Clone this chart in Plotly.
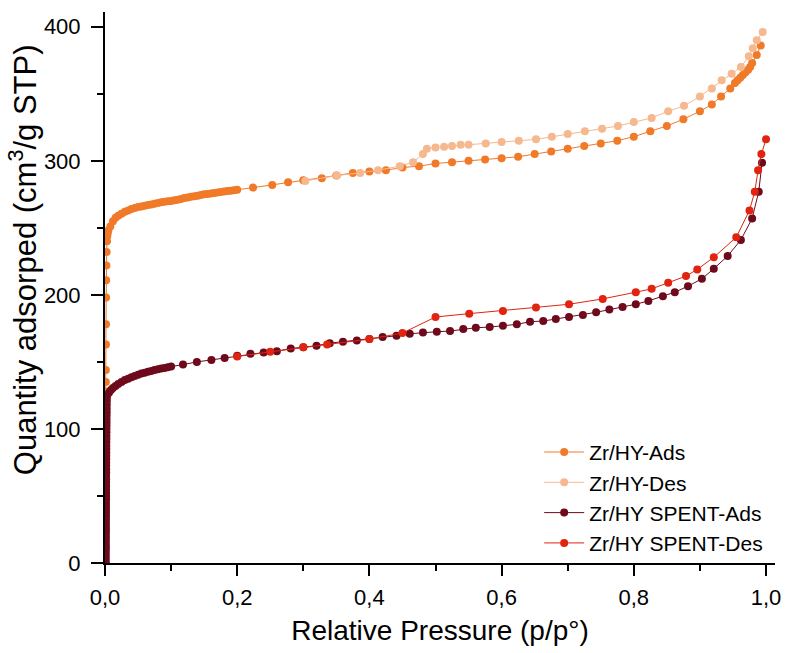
import plotly.graph_objects as go

# ---------------- data ----------------
hy_ads_p = [0.0010, 0.0011, 0.0012, 0.0013, 0.0014, 0.0015, 0.0016, 0.0018, 0.0021, 0.0025, 0.003, 0.0035, 0.004,
            0.005, 0.008, 0.012, 0.016, 0.020, 0.025, 0.030, 0.035, 0.040, 0.045, 0.050, 0.055, 0.060, 0.065,
            0.070, 0.075, 0.080, 0.085, 0.090, 0.095, 0.100, 0.105, 0.110, 0.115, 0.120, 0.125, 0.130, 0.135,
            0.140, 0.145, 0.150, 0.155, 0.160, 0.165, 0.170, 0.175, 0.180, 0.185, 0.190, 0.195, 0.200,
            0.224, 0.253, 0.277, 0.300, 0.328, 0.350, 0.375, 0.400, 0.425, 0.450, 0.475, 0.500, 0.525, 0.550,
            0.575, 0.600, 0.625, 0.650, 0.675, 0.700, 0.725, 0.750, 0.775, 0.800, 0.825, 0.850, 0.875, 0.900,
            0.918, 0.932, 0.946, 0.953, 0.957, 0.961, 0.965, 0.969, 0.973, 0.976, 0.979, 0.986, 0.992]
hy_ads_v = [125, 128, 135, 144, 163, 178, 198, 211, 222, 232, 240, 244, 246,
            248, 251, 255, 257.5, 259, 260.5, 262, 263, 264, 264.8, 265.5, 266, 266.5, 267,
            267.5, 268, 268.5, 269, 269.5, 269.8, 270, 270.5, 271, 271.6, 272.2, 272.7, 273.2, 273.6,
            274, 274.5, 275, 275.3, 275.7, 276, 276.4, 276.8, 277.1, 277.4, 277.7, 278, 278.4,
            280, 282, 284, 285.5, 287, 289, 291, 292, 293, 295, 296, 298, 299, 300,
            301, 302, 303, 305, 307, 309, 311, 313, 315, 318, 322, 326, 331, 337,
            342, 348, 354, 358, 360, 362, 364, 366, 368, 370, 373, 379, 386]

hy_des_p = [0.995, 0.986, 0.980, 0.974, 0.962, 0.948, 0.933, 0.918, 0.900, 0.876, 0.852, 0.827, 0.800,
            0.776, 0.752, 0.726, 0.700, 0.676, 0.652, 0.626, 0.600, 0.576, 0.550, 0.538, 0.525, 0.513,
            0.500, 0.487, 0.481, 0.466, 0.446, 0.413, 0.386, 0.351, 0.303]
hy_des_v = [396, 390, 384, 378, 370, 365, 360, 354, 348, 341, 337, 332, 329,
            326, 324, 322, 320, 318, 316, 315, 314, 313, 312, 312, 311, 310.5,
            310, 309, 305, 299, 296, 293, 291, 289, 285]

sp_ads_p = [0.0012, 0.0012, 0.0012, 0.0012, 0.0013, 0.0013, 0.0013, 0.0013, 0.0013, 0.0014, 0.0014,
            0.0014, 0.0014, 0.0014, 0.0015, 0.0015, 0.0015, 0.0015, 0.0015, 0.0016, 0.0016, 0.0016,
            0.0016, 0.0017, 0.0017, 0.0017, 0.0017, 0.0018, 0.0018, 0.0018, 0.0018, 0.0019, 0.0019,
            0.0019, 0.0020, 0.0020, 0.0020, 0.0021, 0.0021, 0.0022, 0.0022, 0.0023, 0.0023, 0.0024,
            0.0024, 0.0025, 0.0026, 0.0027, 0.0028,
            0.003, 0.006, 0.009, 0.012, 0.016, 0.020, 0.025, 0.030, 0.035, 0.040, 0.045, 0.050, 0.055,
            0.060, 0.065, 0.070, 0.075, 0.080, 0.085, 0.090, 0.095, 0.100,
            0.118, 0.139, 0.161, 0.181, 0.200, 0.220, 0.240, 0.260, 0.281, 0.300, 0.320, 0.340, 0.360,
            0.381, 0.400, 0.420, 0.441, 0.461, 0.481, 0.502, 0.522, 0.542, 0.561, 0.582, 0.602, 0.623,
            0.643, 0.663, 0.682, 0.702, 0.723, 0.743, 0.763, 0.783, 0.803, 0.822, 0.844, 0.862, 0.882,
            0.903, 0.921, 0.942, 0.962, 0.979, 0.989, 0.994]
sp_ads_v = [0, 2.5, 5, 7.5, 10, 12.5, 15, 17.5, 20, 22.5, 25,
            27.5, 30, 32.5, 35, 37.5, 40, 42.5, 45, 47.5, 50, 52.5,
            55, 57.5, 60, 62.5, 65, 67.5, 70, 72.5, 75, 77.5, 80,
            82.5, 85, 87.5, 90, 92.5, 95, 97.5, 100, 102.5, 105, 107.5,
            110, 112.5, 115, 118, 121,
            124, 127, 129, 130.5, 132, 133.5, 135, 136.5, 137.5, 138.5, 139.5, 140.5, 141.3,
            142, 142.7, 143.3, 144, 144.5, 145, 145.5, 146, 146.5,
            148, 150, 151.5, 153, 154.5, 156, 157, 158, 160, 161, 162, 164, 165,
            166, 167, 168.5, 169.5, 171, 172, 172.5, 173, 174.5, 175.5, 176, 177, 178,
            180, 180.5, 182, 183.5, 185, 187, 189, 191, 193, 195.5, 199, 202, 206.5,
            212, 219.5, 229, 241, 257, 277, 298.5]

sp_des_p = [1.000, 0.993, 0.988, 0.983, 0.975, 0.955, 0.921, 0.896, 0.879, 0.852, 0.827, 0.803, 0.753,
            0.702, 0.652, 0.602, 0.551, 0.500, 0.450, 0.400, 0.336, 0.300, 0.250, 0.200]
sp_des_v = [316, 305, 293, 277, 263, 243, 228, 219, 214, 209, 204.5, 202, 197,
            193, 190.5, 188, 186, 183.5, 171.5, 167, 163, 161, 157.5, 154]

series_names = ["Zr/HY-Ads", "Zr/HY-Des", "Zr/HY SPENT-Ads", "Zr/HY SPENT-Des"]
series_colors = ["#F07A28", "#F5B88F", "#6E0A1C", "#E0240F"]

x_ticks = [0.0, 0.2, 0.4, 0.6, 0.8, 1.0]
y_ticks = [0, 100, 200, 300, 400]
x_title = "Relative Pressure (p/p°)"
y_title = "Quantity adsorped (cm<sup>3</sup>/g STP)"

# ---------------- figure ----------------
fig = go.Figure()
for name, col, px_, py_ in zip(series_names, series_colors,
                               [hy_ads_p, hy_des_p, sp_ads_p, sp_des_p],
                               [hy_ads_v, hy_des_v, sp_ads_v, sp_des_v]):
    fig.add_trace(go.Scatter(
        x=px_, y=py_, name=name, mode="lines+markers",
        line=dict(color=col, width=1),
        marker=dict(color=col, size=8),
    ))

font_family = "Arial, Liberation Sans, sans-serif"
fig.update_layout(
    width=792, height=653,
    margin=dict(l=105, r=17, t=12, b=90),
    paper_bgcolor="white", plot_bgcolor="white",
    separators=",.",
    font=dict(family=font_family, size=22, color="black"),
    showlegend=True,
    legend=dict(x=0.648, y=0.238, xanchor="left", yanchor="top",
                font=dict(size=21), bgcolor="rgba(0,0,0,0)",
                tracegroupgap=0, itemwidth=40),
)
fig.update_xaxes(
    range=[0, 1.0136], tickvals=x_ticks, tickformat=".1f",
    showline=True, linecolor="black", linewidth=2, mirror=False,
    ticks="outside", ticklen=11, tickwidth=2, tickcolor="black",
    minor=dict(dtick=0.1, ticks="outside", ticklen=6, tickwidth=2, tickcolor="black"),
    showgrid=False, zeroline=False,
    tickfont=dict(size=22), ticklabelstandoff=3,
    title=dict(text=x_title, font=dict(size=28), standoff=11),
)
fig.update_yaxes(
    range=[0, 411], tickvals=y_ticks,
    showline=True, linecolor="black", linewidth=2, mirror=False,
    ticks="outside", ticklen=12, tickwidth=2, tickcolor="black",
    minor=dict(dtick=50, ticks="outside", ticklen=6, tickwidth=2, tickcolor="black"),
    showgrid=False, zeroline=False,
    tickfont=dict(size=22), ticklabelstandoff=6,
)
fig.add_annotation(
    text=y_title, textangle=-90, showarrow=False,
    xref="paper", yref="paper", x=-0.122, y=0.55,
    xanchor="center", yanchor="middle",
    font=dict(size=31, family=font_family, color="black"),
)

fig.write_html("out.html")
